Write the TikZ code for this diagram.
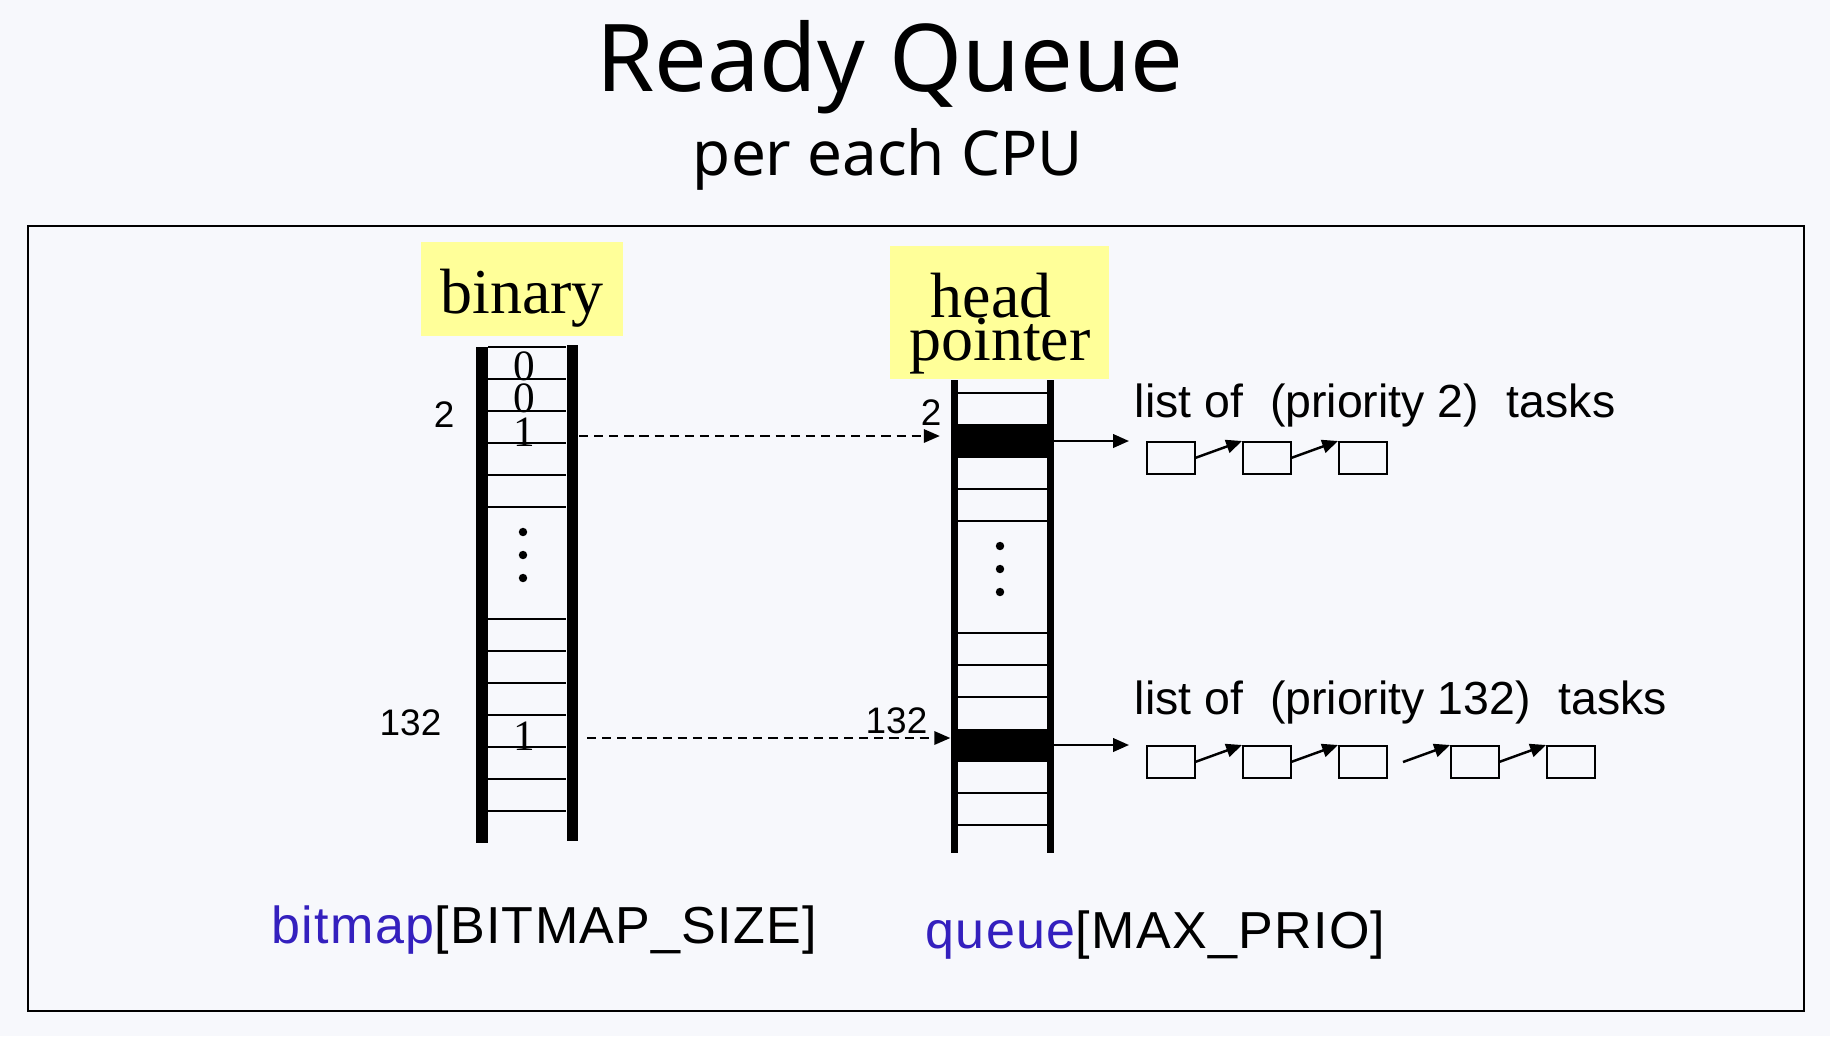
\documentclass[tikz,border=0pt]{standalone}
\usepackage{fontspec}
\setmainfont{Liberation Serif}
\newfontfamily\titlesans{Noto Sans}
\newfontfamily\labelsans{Liberation Sans}
\newfontfamily\arrsans[LetterSpace=2.5]{Liberation Sans}
\usetikzlibrary{arrows.meta}
\definecolor{pagebg}{RGB}{247,248,252}
\definecolor{tagyellow}{RGB}{255,255,153}
\definecolor{kwblue}{RGB}{52,32,190}

\tikzset{
  txt/.style={inner sep=0pt},
  idx/.style={txt, font=\labelsans\fontsize{10.5}{12}\selectfont},
  lst/.style={txt, font=\labelsans\fontsize{13.2}{15}\selectfont},
  arrname/.style={txt, font=\arrsans\fontsize{14.8}{17}\selectfont},
  tagtext/.style={txt, font=\fontsize{18.2}{20}\selectfont},
  bitval/.style={txt, font=\fontsize{12.3}{14}\selectfont},
  rail/.style={line width=3.4pt},
  thinrail/.style={line width=2.2pt},
  rung/.style={line width=0.6pt},
  blk/.style={fill=black, inner sep=0pt, minimum width=0.96cm, minimum height=0.33cm},
  taskbox/.style={draw, line width=0.45pt, inner sep=0pt, minimum width=0.48cm, minimum height=0.32cm},
  link/.style={-{Triangle[length=4.5pt,width=3.8pt]}, line width=0.7pt},
  ptr/.style={-{Triangle[length=4.5pt,width=3.8pt]}, line width=0.5pt, dash pattern=on 2.6pt off 1.7pt},
}

\begin{document}
\begin{tikzpicture}[x=0.01cm, y=-0.01cm]
  % Page and frame
  \fill[pagebg] (0,0) rectangle (1830,1036);
  \useasboundingbox (0,0) rectangle (1830,1036);
  \draw[line width=0.6pt] (28,226) rectangle (1804,1011);
  % Title
  \node[txt, anchor=base, font=\titlesans\fontsize{26.6}{32}\selectfont] (title) at (890,91) {Ready Queue};
  \node[txt, anchor=base, font=\titlesans\fontsize{17.6}{21}\selectfont] (subtitle) at (888,175) {per each CPU};
  % Yellow tags
  \fill[tagyellow] (421,242) rectangle (623,336);
  \fill[tagyellow] (890,246) rectangle (1109,379);
  \node[tagtext, anchor=base] (bintag) at (522,313) {binary};
  \node[tagtext, anchor=base] (headtag) at (991,317) {head};
  \node[tagtext, anchor=base] (ptrtag) at (1000,360) {pointer};

  % Bitmap ladder
  \draw[rail] (482,347) -- (482,843);
  \draw[rail] (572.5,345) -- (572.5,841);
  \foreach \y in {347,379,411,443,475,507,619,651,683,715,747,779,811}
    \draw[rung] (488,\y) -- (566,\y);
  \foreach \y in {532,555,578}
    \fill (523,\y) circle (1.2pt);
  % Bits
  \node[bitval, anchor=base] (bit0) at (524,380) {0};
  \node[bitval, anchor=base] (bit1) at (524,412) {0};
  \node[bitval, anchor=base] (bit2) at (524,446) {1};
  \node[bitval, anchor=base] (bit132) at (524,750) {1};
  \node[idx, anchor=base east] (bmidx2) at (455,427) {2};
  \node[idx, anchor=base east] (bmidx132) at (442,735) {132};

  % Queue ladder
  \draw[thinrail] (954.5,380) -- (954.5,853);
  \draw[thinrail] (1050.5,380) -- (1050.5,853);
  \foreach \y in {393,489,521,633,665,697,793,825}
    \draw[rung] (958,\y) -- (1047,\y);
  \node[blk] (head2) at (1002.5,441) {};
  \node[blk] (head132) at (1002.5,745) {};
  \foreach \y in {546,569,592}
    \fill (1000,\y) circle (1.2pt);
  \node[idx, anchor=base east] (qidx2) at (942,425) {2};
  \node[idx, anchor=base east] (qidx132) at (928,733) {132};

  % Bitmap -> queue
  \coordinate (from2) at (579,436);
  \coordinate (from132) at (587,738);
  \draw[ptr, shorten >=0.14cm] (from2) -- (from2 -| head2.west);
  \draw[ptr, shorten >=0.035cm] (from132) -- (from132 -| head132.west);

  % Task lists
  \foreach \x [count=\i] in {1146,1242,1338}
    \node[taskbox, anchor=north west] (ta\i) at (\x,441) {};
  \foreach \x [count=\i] in {1146,1242,1338,1450,1546}
    \node[taskbox, anchor=north west] (tb\i) at (\x,745) {};
  \draw[link, shorten >=0.17cm] (head2.east) -- (ta1.north west);
  \draw[link] (ta1.east) -- (ta2.north west);
  \draw[link] (ta2.east) -- (ta3.north west);
  \draw[link, shorten >=0.17cm] (head132.east) -- (tb1.north west);
  \draw[link] (tb1.east) -- (tb2.north west);
  \draw[link] (tb2.east) -- (tb3.north west);
  \coordinate (gap) at (1403,762);
  \draw[link] (gap) -- (tb4.north west);
  \draw[link] (tb4.east) -- (tb5.north west);
  \node[lst, anchor=base west] (lista) at (1134,417) {list of\hspace{0.27cm}(priority 2)\hspace{0.28cm}tasks};
  \node[lst, anchor=base west] (listb) at (1134,714) {list of\hspace{0.27cm}(priority 132)\hspace{0.28cm}tasks};

  % Array names
  \node[arrname, anchor=base west] (bmname) at (271,943) {\textcolor{kwblue}{bitmap}[BITMAP\_SIZE]};
  \node[arrname, anchor=base west] (qname) at (925,948) {\textcolor{kwblue}{queue}[MAX\_PRIO]};
\end{tikzpicture}
\end{document}
